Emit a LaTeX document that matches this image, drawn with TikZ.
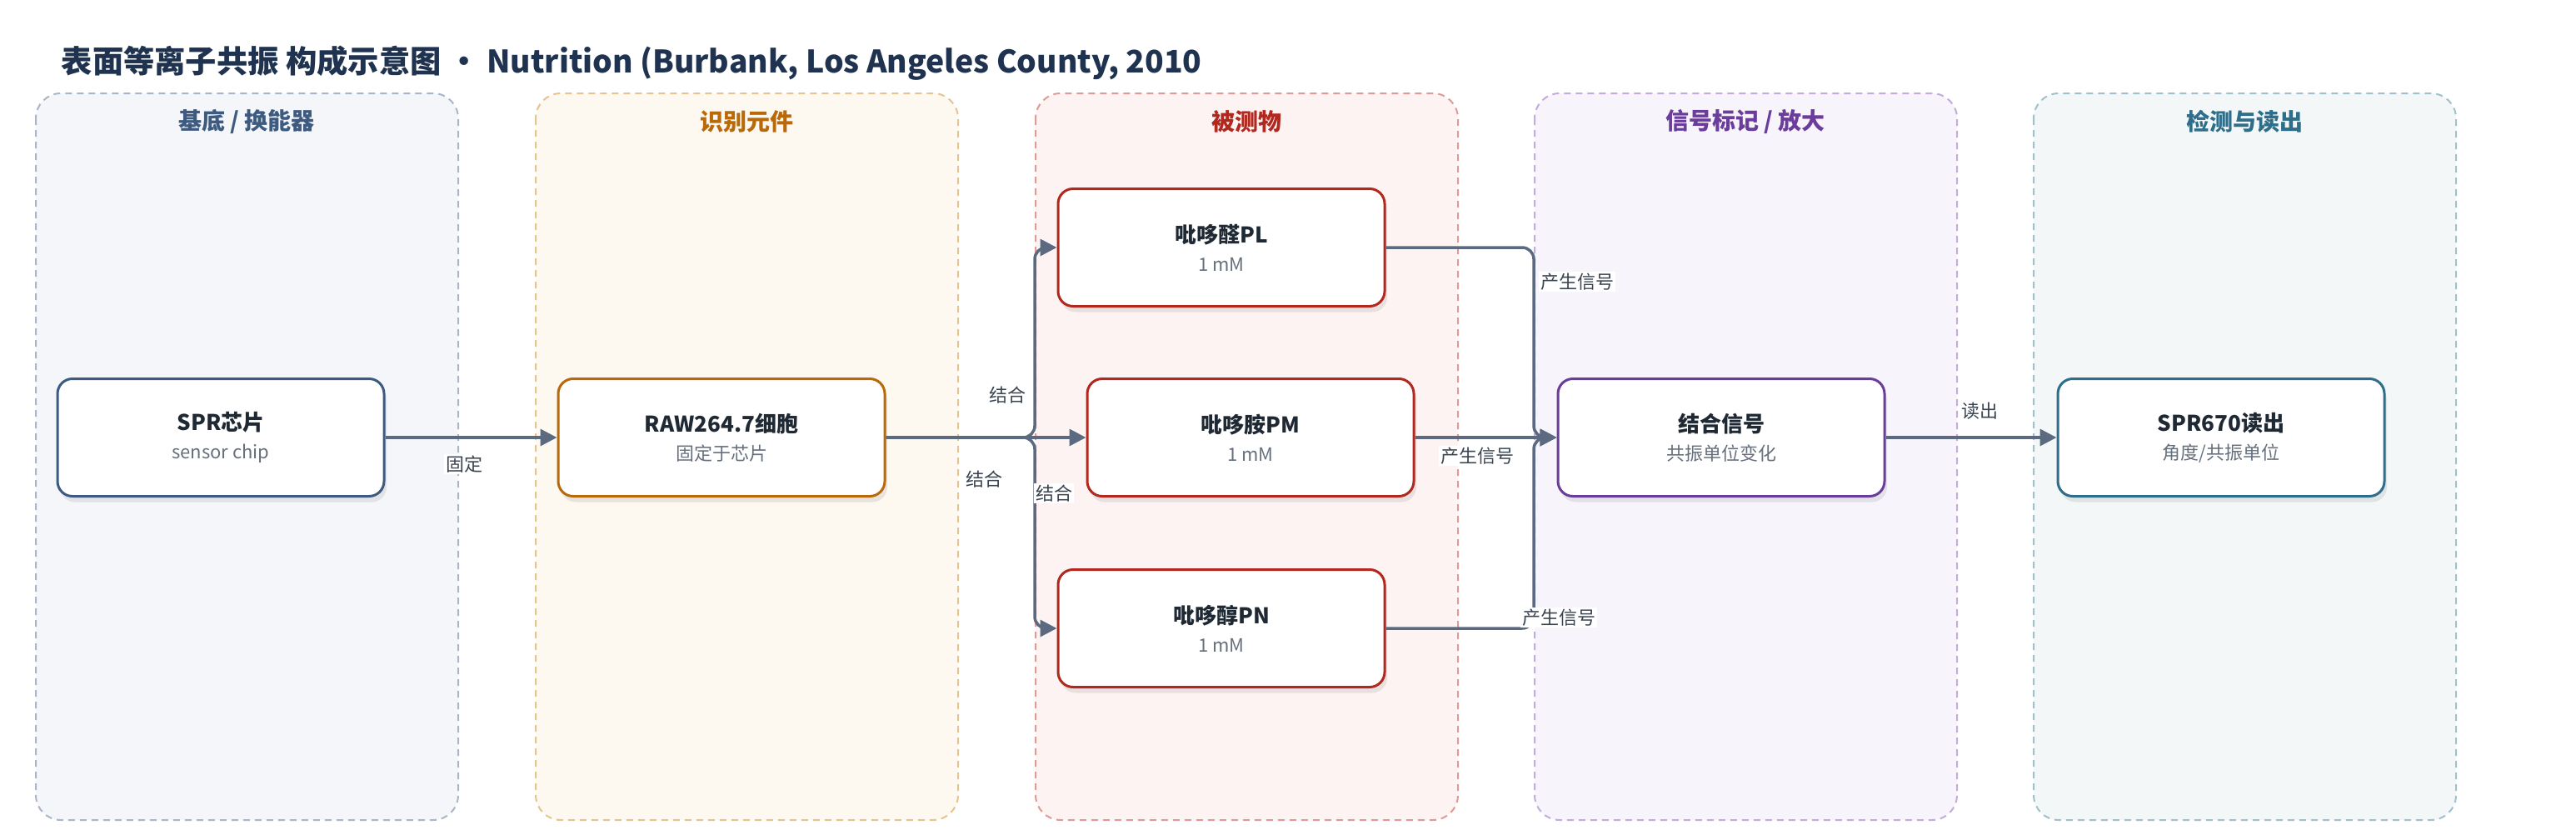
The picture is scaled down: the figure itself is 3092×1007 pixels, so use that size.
\documentclass[tikz,border=0pt]{standalone}
\usepackage{fontspec}
\setmainfont{Noto Sans CJK SC}
\usetikzlibrary{arrows.meta,shadows}

\definecolor{ink}{HTML}{1F3350}
\definecolor{boxtext}{HTML}{1F2933}
\definecolor{subgray}{HTML}{66707D}
\definecolor{edgegray}{HTML}{5B6A80}
\definecolor{lblgray}{HTML}{3A4450}
% 面板颜色
\definecolor{bfill}{HTML}{F4F6FA}\definecolor{bline}{HTML}{A9B6C9}\definecolor{bmain}{HTML}{3D5A80}
\definecolor{ofill}{HTML}{FDF8F0}\definecolor{oline}{HTML}{E5C48E}\definecolor{omain}{HTML}{B8690A}
\definecolor{rfill}{HTML}{FDF3F2}\definecolor{rline}{HTML}{E09A96}\definecolor{rmain}{HTML}{B0281E}
\definecolor{vfill}{HTML}{F7F4FB}\definecolor{vline}{HTML}{C3ACDC}\definecolor{vmain}{HTML}{6A3D9A}
\definecolor{tfill}{HTML}{F3F7F8}\definecolor{tline}{HTML}{9FC0CC}\definecolor{tmain}{HTML}{2E6E8A}

\tikzset{every picture/.style={line width=0.75pt}}
\tikzset{
  panel/.style={draw=#1,dash pattern=on 8pt off 6pt,line width=2pt,rounded corners=30pt},
  paneltitle/.style={text=#1,font=\bfseries\fontsize{28}{32}\selectfont},
  card/.style={draw=#1,line width=3pt,fill=white,rounded corners=18pt,
    minimum width=392pt,minimum height=141pt,align=center,
    font=\fontsize{22}{34}\selectfont,
    drop shadow={shadow xshift=3pt,shadow yshift=-7pt,opacity=0.16}},
  edge/.style={draw=edgegray,line width=3.5pt,-{Triangle[length=20pt,width=20pt]}},
  lbl/.style={fill=white,inner sep=2pt,text=lblgray,font=\fontsize{22}{26}\selectfont},
}
\newcommand{\cardtext}[2]{{\bfseries\color{boxtext}\fontsize{26}{30}\selectfont #1}\\{\color{subgray}#2}}

\begin{document}
\begin{tikzpicture}[x=1pt,y=-1pt]
				\useasboundingbox (0,0) rectangle (3092,1007);
				\node[anchor=west,text=ink,font=\bfseries\fontsize{37.3}{42}\selectfont] (title) at (70,76)
					{表面等离子共振 构成示意图 • Nutrition (Burbank, Los Angeles County, 2010}; %标题
				% 面板
				\draw[panel=bline,fill=bfill] (43,112) rectangle (550,984);
				\draw[panel=oline,fill=ofill] (643,112) rectangle (1150,984);
				\draw[panel=rline,fill=rfill] (1243,112) rectangle (1750,984);
				\draw[panel=vline,fill=vfill] (1842,112) rectangle (2349,984);
				\draw[panel=tline,fill=tfill] (2441,112) rectangle (2948,984);
				\node[paneltitle=bmain] (t1) at (296,146) {基底 / 换能器};
				\node[paneltitle=omain] (t2) at (896,146) {识别元件};
				\node[paneltitle=rmain] (t3) at (1496,146) {被测物};
				\node[paneltitle=vmain] (t4) at (2095,146) {信号标记 / 放大};
				\node[paneltitle=tmain] (t5) at (2694,146) {检测与读出};
				% 节点
				\node[card=bmain] (chip) at (265,525) {\cardtext{SPR芯片}{sensor chip}};
				\node[card=omain] (cell) at (866,525) {\cardtext{RAW264.7细胞}{固定于芯片}};
				\node[card=rmain] (pl) at (1466,297) {\cardtext{吡哆醛PL}{1 mM}};
				\node[card=rmain] (pm) at (1501,525) {\cardtext{吡哆胺PM}{1 mM}};
				\node[card=rmain] (pn) at (1466,754) {\cardtext{吡哆醇PN}{1 mM}};
				\node[card=vmain] (sig) at (2066,525) {\cardtext{结合信号}{共振单位变化}};
				\node[card=tmain] (spr) at (2666,525) {\cardtext{SPR670读出}{角度/共振单位}};
				\coordinate (split) at (1242,525); %分叉
				\coordinate (merge) at (1841,525); %汇合
				% 连线
				\draw[edge] (chip) -- (cell);
				\draw[edge,rounded corners=14pt] (cell.east) -| (split |- pl.west) -- (pl.west);
				\draw[edge] (cell) -- (pm);
				\draw[edge,rounded corners=14pt] (cell.east) -| (split |- pn.west) -- (pn.west);
				\draw[edge,rounded corners=14pt] (pl.east) -| (merge) -- (sig.west);
				\draw[edge] (pm) -- (sig);
				\draw[edge,rounded corners=14pt] (pn.east) -| (merge) -- (sig.west);
				\draw[edge] (sig) -- (spr);
				% 标签
				\node[lbl] (l1) at (557,557) {固定};
				\node[lbl] (l2) at (1209,474) {结合};
				\node[lbl] (l3) at (1181,575) {结合};
				\node[lbl] (l4) at (1265,592) {结合};
				\node[lbl] (l5) at (1893,338) {产生信号};
				\node[lbl] (l6) at (1773,547) {产生信号};
				\node[lbl] (l7) at (1871,741) {产生信号};
				\node[lbl] (l8) at (2376,493) {读出};
			\end{tikzpicture}
\end{document}
